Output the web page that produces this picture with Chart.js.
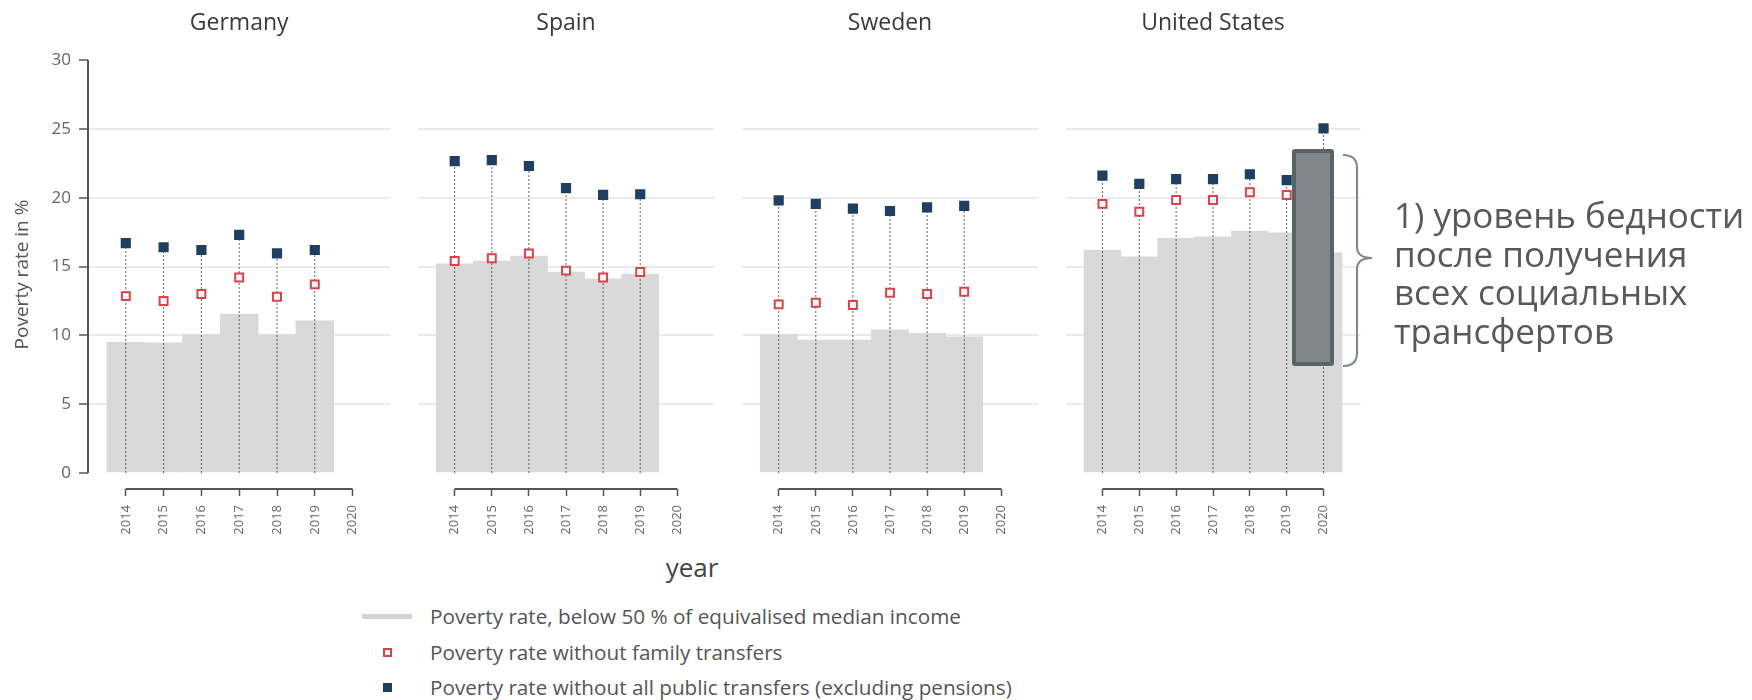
<!DOCTYPE html>
<html>
<head>
<meta charset="utf-8">
<script src="https://cdn.jsdelivr.net/npm/chart.js@4.4.1/dist/chart.umd.min.js"></script>
<style>
  html, body { margin: 0; padding: 0; background: #fff; }
  body { width: 1752px; height: 700px; position: relative; overflow: hidden; font-family: 'Open Sans', sans-serif; }
  .panel { position: absolute; top: 0; }
  .panel canvas { display: block; }
  #yearLabel { position: absolute; left: 642px; width: 100px; text-align: center; top: 554px; font-size: 26px; line-height: 26px; color: #444; }
  .legRow { position: absolute; left: 355px; height: 24px; display: flex; align-items: center; font-size: 20.7px; color: #555; white-space: nowrap; }
  .legKey { width: 64px; height: 24px; position: relative; flex: none; }
  .legText { margin-left: 11px; line-height: 24px; }
  .keyLine { position: absolute; left: 7px; top: 10px; width: 50px; height: 5px; background: #d3d3d3; }
  .keySq { position: absolute; left: 28px; top: 8px; width: 9px; height: 9px; box-sizing: border-box; }
  #annoRect { position: absolute; left: 1292px; top: 149px; width: 42px; height: 217px; box-sizing: border-box; background: #7f878a; border: 4.5px solid #5b6366; border-radius: 3px; z-index: 5; }
  #brace { position: absolute; left: 0; top: 0; z-index: 5; }
  #annoText { position: absolute; left: 1394px; top: 196px; font-size: 35px; line-height: 38.5px; color: #595959; white-space: nowrap; z-index: 5; }
</style>
</head>
<body>
<div class="panel" style="left:0px"><canvas id="c0" width="398" height="549"></canvas></div>
<div class="panel" style="left:410px"><canvas id="c1" width="312" height="549"></canvas></div>
<div class="panel" style="left:734px"><canvas id="c2" width="312" height="549"></canvas></div>
<div class="panel" style="left:1058px"><canvas id="c3" width="310" height="549"></canvas></div>

<div id="yearLabel">year</div>

<div class="legRow" style="top:604px"><div class="legKey"><div class="keyLine"></div></div><div class="legText" id="leg0"></div></div>
<div class="legRow" style="top:640px"><div class="legKey"><div class="keySq" style="border:2px solid #dc424a;background:#fff"></div></div><div class="legText" id="leg1"></div></div>
<div class="legRow" style="top:675px"><div class="legKey"><div class="keySq" style="background:#1e3f5f"></div></div><div class="legText" id="leg2"></div></div>

<div id="annoRect"></div>
<svg id="brace" width="1752" height="700"><path d="M1343,155 Q1357,155 1357,168 L1357,247 Q1357,258 1372,258 Q1357,258 1357,269 L1357,353 Q1357,366 1343,366" fill="none" stroke="#7c878d" stroke-width="2"/></svg>
<div id="annoText">1) уровень бедности<br>после получения<br>всех социальных<br>трансфертов</div>

<script>
// ---------------- DATA ----------------
const years = [2014, 2015, 2016, 2017, 2018, 2019, 2020];
const xTicks = [2014, 2015, 2016, 2017, 2018, 2019, 2020];
const yTicks = [0, 5, 10, 15, 20, 25, 30];

const countries = ["Germany", "Spain", "Sweden", "United States"];

// Poverty rate, below 50 % of equivalised median income
const germanyRate = [9.5, 9.45, 10.05, 11.55, 10.05, 11.05];
const spainRate   = [15.2, 15.4, 15.75, 14.6, 14.1, 14.45];
const swedenRate  = [10.05, 9.65, 9.65, 10.4, 10.15, 9.9];
const usRate      = [16.2, 15.7, 17.05, 17.15, 17.55, 17.45, 16.0];

// Poverty rate without family transfers
const germanyNoFamily = [12.85, 12.5, 13.0, 14.2, 12.8, 13.7];
const spainNoFamily   = [15.4, 15.6, 15.95, 14.7, 14.2, 14.6];
const swedenNoFamily  = [12.25, 12.37, 12.2, 13.1, 13.0, 13.17];
const usNoFamily      = [19.55, 18.98, 19.83, 19.83, 20.4, 20.2, 18.55];

// Poverty rate without all public transfers (excluding pensions)
const germanyNoPublic = [16.7, 16.4, 16.2, 17.3, 15.95, 16.2];
const spainNoPublic   = [22.66, 22.73, 22.3, 20.7, 20.2, 20.25];
const swedenNoPublic  = [19.8, 19.55, 19.2, 19.03, 19.3, 19.4];
const usNoPublic      = [21.6, 21.0, 21.35, 21.35, 21.7, 21.28, 25.03];

const legendLabels = [
  "Poverty rate, below 50 % of equivalised median income",
  "Poverty rate without family transfers",
  "Poverty rate without all public transfers (excluding pensions)"
];
const yTitle = "Poverty rate in %";

// ---------------- RENDER ----------------
legendLabels.forEach((t, i) => { document.getElementById('leg' + i).textContent = t; });

Chart.defaults.font.family = "'Open Sans', sans-serif";
Chart.defaults.color = '#555';

const axisLines = {
  id: 'axisLines',
  afterDraw(chart, args, opts) {
    const { ctx, chartArea: a, scales: { x, y } } = chart;
    ctx.save();
    ctx.strokeStyle = '#555';
    ctx.lineWidth = 2;
    ctx.beginPath();
    ctx.moveTo(x.getPixelForValue(xTicks[0]), a.bottom);
    ctx.lineTo(x.getPixelForValue(xTicks[xTicks.length - 1]), a.bottom);
    if (opts.showY) {
      ctx.moveTo(a.left, y.getPixelForValue(yTicks[0]));
      ctx.lineTo(a.left, y.getPixelForValue(yTicks[yTicks.length - 1]));
    }
    ctx.stroke();
    ctx.restore();
  }
};

function pts(arr) { return arr.map((v, i) => ({ x: years[i], y: v })); }

function makeChart(id, title, rate, noFam, noPub, showY) {
  const datasets = [
    { type: 'scatter', data: pts(noPub), pointStyle: 'rect', pointRadius: 7.2, backgroundColor: '#1e3f5f', borderWidth: 0, order: 1 },
    { type: 'scatter', data: pts(noFam), pointStyle: 'rect', pointRadius: 5.6, backgroundColor: '#ffffff', borderColor: '#dc424a', borderWidth: 2, order: 2 }
  ];
  noPub.forEach((v, i) => {
    datasets.push({ type: 'line', data: [{ x: years[i], y: 0 }, { x: years[i], y: v }], borderColor: 'rgba(70,70,70,0.85)', borderWidth: 1, borderDash: [2, 2], pointRadius: 0, order: 3 });
  });
  datasets.push({ type: 'bar', data: pts(rate), backgroundColor: '#d9d9d9', borderWidth: 0, barPercentage: 1, categoryPercentage: 1, order: 4 });

  return new Chart(document.getElementById(id), {
    type: 'bar',
    data: { datasets },
    options: {
      responsive: false,
      animation: false,
      events: [],
      layout: { padding: 0 },
      plugins: {
        legend: { display: false },
        tooltip: { enabled: false },
        title: { display: true, text: title, fullSize: false, color: '#3a3a3a', font: { size: 23, weight: 'normal' }, padding: { top: 10, bottom: 22.4 } },
        axisLines: { showY }
      },
      scales: {
        x: {
          type: 'linear', min: 2013, max: 2021, offset: false,
          afterBuildTicks: s => { s.ticks = xTicks.map(v => ({ value: v })); },
          afterFit: s => { s.height = 60; },
          grid: { offset: false, drawOnChartArea: false, drawTicks: true, tickLength: 7, tickColor: '#555', tickWidth: 1.5 },
          border: { display: false },
          ticks: { autoSkip: false, minRotation: 90, maxRotation: 90, padding: 9, color: '#666', font: { size: 13 }, callback: v => String(v) }
        },
        y: {
          type: 'linear', min: -1.16, max: 30,
          afterBuildTicks: s => { s.ticks = yTicks.map(v => ({ value: v })); },
          afterFit: s => { s.width = showY ? 88 : 0; },
          grid: {
            color: c => (c.tick && c.tick.value > 0 && c.tick.value < 30) ? '#ebebeb' : 'rgba(0,0,0,0)',
            lineWidth: 2, drawTicks: showY, tickLength: 9, tickColor: '#555', tickWidth: 1.5
          },
          border: { display: false },
          ticks: { display: showY, padding: 8, color: '#666', font: { size: 17 } },
          title: { display: showY, text: yTitle, color: '#555', font: { size: 19 }, padding: { top: 11, bottom: 0 } }
        }
      }
    },
    plugins: [axisLines]
  });
}

makeChart('c0', countries[0], germanyRate, germanyNoFamily, germanyNoPublic, true);
makeChart('c1', countries[1], spainRate, spainNoFamily, spainNoPublic, false);
makeChart('c2', countries[2], swedenRate, swedenNoFamily, swedenNoPublic, false);
makeChart('c3', countries[3], usRate, usNoFamily, usNoPublic, false);
</script>
</body>
</html>
